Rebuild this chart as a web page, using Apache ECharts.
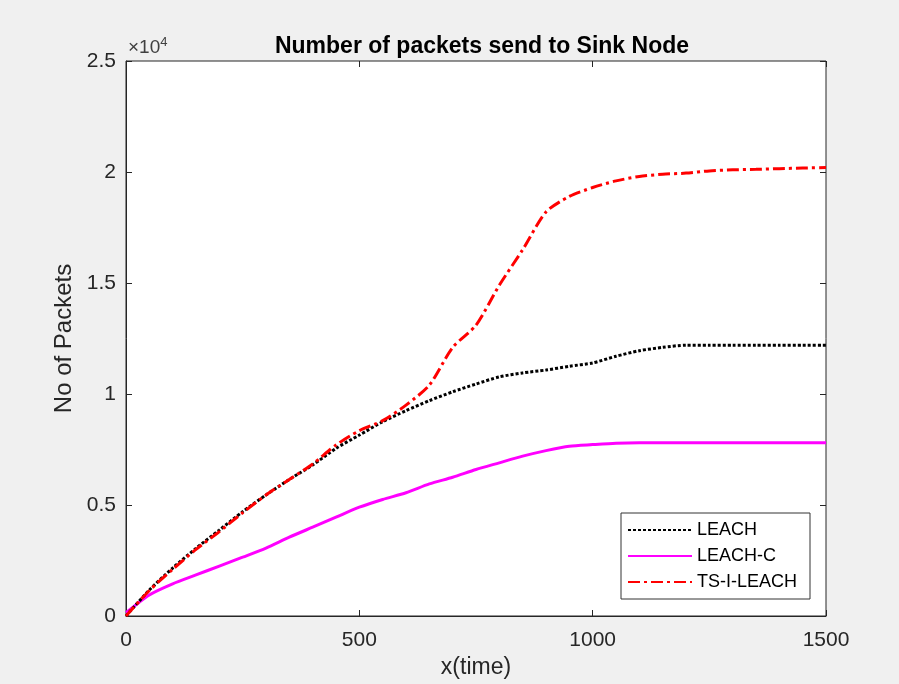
<!DOCTYPE html>
<html>
<head>
    <meta charset="utf-8">
    <title>Packets to sink</title>
    <script src="https://cdn.jsdelivr.net/npm/echarts@6/dist/echarts.min.js"></script>
    <style>
        html, body { margin: 0; padding: 0; background: #f0f0f0; }
        #chart { width: 899px; height: 684px; }
    </style>
</head>
<body>
<div id="chart"></div>
<script>
    // time values (x)
    var times = [0, 50, 100, 150, 200, 250, 300, 350, 400, 450, 500, 550, 600, 650, 700, 750,
        800, 850, 900, 950, 1000, 1050, 1100, 1150, 1200, 1250, 1300, 1350, 1400, 1450, 1500];
    var leach = [0, 1170, 2160, 3050, 3870, 4700, 5450, 6150, 6800, 7550, 8150, 8750, 9250, 9700, 10100, 10450,
        10770, 10950, 11080, 11250, 11400, 11700, 11950, 12100, 12200, 12200, 12200, 12200, 12200, 12200, 12200];
    var leachC = [150, 950, 1450, 1850, 2250, 2650, 3060, 3550, 4000, 4450, 4900, 5250, 5550, 5950, 6250, 6600,
        6900, 7200, 7450, 7650, 7720, 7780, 7800, 7800, 7800, 7800, 7800, 7800, 7800, 7800, 7800];
    var tsiLeach = [0, 1150, 2100, 3000, 3800, 4650, 5450, 6150, 6850, 7700, 8350, 8800, 9500, 10400, 12100, 13100,
        14900, 16500, 18200, 18900, 19300, 19600, 19800, 19900, 19950, 20050, 20100, 20120, 20150, 20180, 20200];
    var xTicks = [0, 500, 1000, 1500];
    var yTicks = ['0', '0.5', '1', '1.5', '2', '2.5'];

    function pairs(ys) {
        var out = [];
        for (var i = 0; i < times.length; i++) out.push([times[i], ys[i]]);
        return out;
    }

    var chart = echarts.init(document.getElementById('chart'));
    var axisCol = '#262626';
    var font = 'Liberation Sans';

    // bare axes that only draw inward ticks on the top and right sides of the box
    function tickOnly(pos, max, step) {
        return {
            type: 'value', position: pos, min: 0, max: max, interval: step,
            axisLine: { show: false, onZero: false },
            axisTick: { show: true, inside: true, length: 6, lineStyle: { color: axisCol } },
            axisLabel: { show: false }, splitLine: { show: false }
        };
    }

    var option = {
        backgroundColor: '#f0f0f0',
        animation: false,
        title: {
            text: 'Number of packets send to Sink Node',
            left: 477, top: 30, textAlign: 'center',
            textStyle: { fontFamily: font, fontSize: 23, fontWeight: 'bold', color: '#000' }
        },
        grid: {
            left: 126, right: 73, top: 61, bottom: 68,
            outerBoundsMode: 'none', containLabel: false,
            show: true, backgroundColor: '#fff', borderColor: '#262626', borderWidth: 1
        },
        legend: {
            left: 621, top: 513, orient: 'vertical',
            backgroundColor: '#fff', borderColor: '#333', borderWidth: 1, borderRadius: 0,
            padding: [8, 13, 8, 6], itemGap: 8, itemWidth: 64, itemHeight: 14,
            itemStyle: { opacity: 0 },
            textStyle: { fontFamily: font, fontSize: 18, color: '#000' },
            data: ['LEACH', 'LEACH-C', 'TS-I-LEACH']
        },
        xAxis: [{
            type: 'value', min: 0, max: 1500, interval: 500,
            name: 'x(time)', nameLocation: 'middle', nameGap: 38,
            nameTextStyle: { fontFamily: font, fontSize: 23, color: axisCol },
            axisLine: { onZero: false, lineStyle: { color: axisCol } },
            axisTick: { inside: true, length: 6, lineStyle: { color: axisCol } },
            axisLabel: {
                fontFamily: font, fontSize: 21, color: axisCol, margin: 14,
                formatter: function (v) { return String(xTicks[xTicks.indexOf(v)]); }
            },
            splitLine: { show: false }
        }, tickOnly('top', 1500, 500)],
        yAxis: [{
            type: 'value', min: 0, max: 25000, interval: 5000,
            name: 'No of Packets', nameLocation: 'middle', nameGap: 46,
            nameTextStyle: { fontFamily: font, fontSize: 24, color: axisCol },
            axisLine: { show: true, onZero: false, lineStyle: { color: axisCol } },
            axisTick: { show: true, inside: true, length: 6, lineStyle: { color: axisCol } },
            axisLabel: {
                fontFamily: font, fontSize: 21, color: axisCol, margin: 10,
                formatter: function (v) { return yTicks[Math.round(v / 5000)]; }
            },
            splitLine: { show: false }
        }, tickOnly('right', 25000, 5000)],
        graphic: [{
            type: 'text', left: 128, top: 36,
            style: {
                text: '{a|\u00d710}{b|4}',
                rich: {
                    a: { fontFamily: font, fontSize: 19, fill: '#404040' },
                    b: { fontFamily: font, fontSize: 13, fill: '#404040', verticalAlign: 'top', padding: [0, 0, 10, 0] }
                }
            }
        }],
        series: [{
            name: 'LEACH', type: 'line', showSymbol: false, symbol: 'none', smooth: 0.25,
            data: pairs(leach), color: '#000',
            lineStyle: { color: '#000', width: 3, type: [3, 2] }, z: 3
        }, {
            name: 'LEACH-C', type: 'line', showSymbol: false, symbol: 'none', smooth: 0.25,
            data: pairs(leachC), color: '#ff00ff',
            lineStyle: { color: '#ff00ff', width: 3 }, z: 2
        }, {
            name: 'TS-I-LEACH', type: 'line', showSymbol: false, symbol: 'none', smooth: 0.25,
            data: pairs(tsiLeach), color: '#ff0000',
            lineStyle: { color: '#ff0000', width: 3, type: [12, 4, 3, 4] }, z: 4
        }]
    };
    chart.setOption(option);
</script>
</body>
</html>
